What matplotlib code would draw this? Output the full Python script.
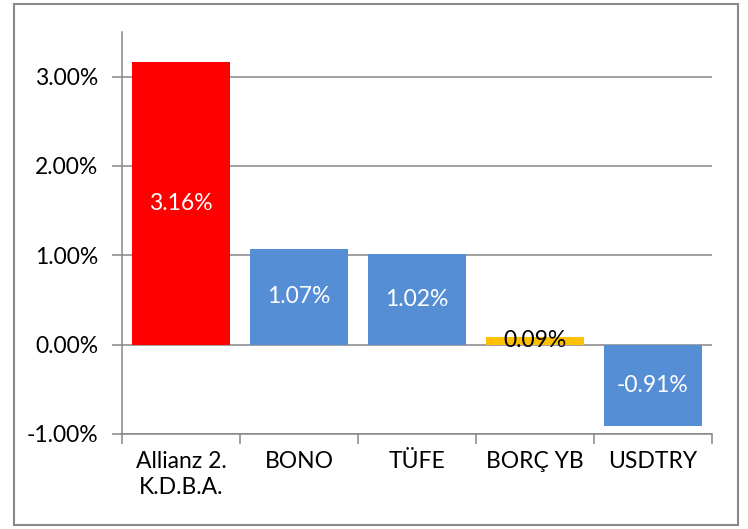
import matplotlib.pyplot as plt
from matplotlib.patches import Rectangle
from matplotlib.ticker import FuncFormatter, FixedLocator
import numpy as np

plt.rcParams['font.family'] = ['Lato', 'DejaVu Sans']

categories = ["Allianz 2.\nK.D.B.A.", "BONO", "TÜFE", "BORÇ YB", "USDTRY"]
values = [3.16, 1.07, 1.02, 0.09, -0.91]
colors = ["#FF0000", "#558ED5", "#558ED5", "#FFC000", "#558ED5"]
label_colors = ["white", "white", "white", "black", "white"]

fig = plt.figure(figsize=(7.48, 5.29), dpi=100)
fig.patches.append(Rectangle((14 / 748, 4 / 529), 724 / 748, 521 / 529,
                             transform=fig.transFigure, fill=False,
                             edgecolor="#898989", linewidth=1.5))

ax = fig.add_axes([122 / 748, 95 / 529, 590 / 748, 402 / 529])
x = np.arange(len(categories))
bars = ax.bar(x, values, width=0.83, color=colors, zorder=2)

for b, v, c in zip(bars, values, label_colors):
    ax.text(b.get_x() + b.get_width() / 2, v / 2, f"{v:.2f}%",
            ha="center", va="center", color=c, fontsize=16.5, zorder=3)

ax.set_xlim(-0.5, len(categories) - 0.5)
ax.set_ylim(-1, 3.5)
ax.set_yticks([-1, 0, 1, 2, 3])
ax.yaxis.set_major_formatter(FuncFormatter(lambda v, p: f"{v:.2f}%"))
ax.grid(axis="y", color="#868686", linewidth=1.1, zorder=0)

ax.set_xticks(x)
ax.set_xticklabels(categories, fontsize=16.5, linespacing=1.3)
ax.xaxis.set_minor_locator(FixedLocator(np.arange(-0.5, len(categories), 1)))
ax.tick_params(axis="x", which="major", length=0, pad=12)
ax.tick_params(axis="x", which="minor", length=7, width=1.1, color="#868686")
ax.tick_params(axis="y", length=7, width=1.1, color="#868686", labelsize=16.5, pad=10)

for s in ["top", "right"]:
    ax.spines[s].set_visible(False)
for s in ["left", "bottom"]:
    ax.spines[s].set_color("#868686")
    ax.spines[s].set_linewidth(1.1)

fig.savefig("out.png", dpi=100)
